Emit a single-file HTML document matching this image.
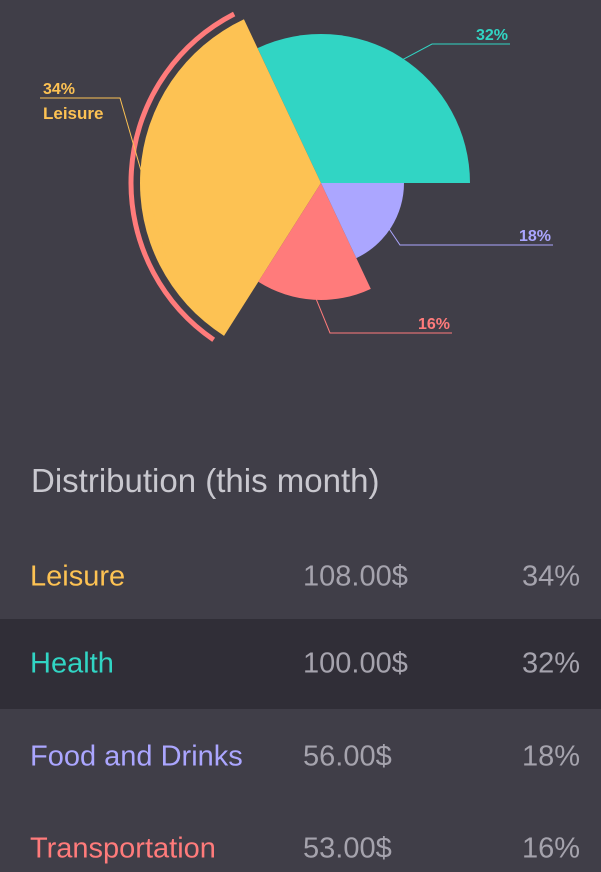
<!DOCTYPE html>
<html><head><meta charset="utf-8"><style>
html,body{margin:0;width:601px;height:872px;overflow:hidden}
body{background:#403e48;font-family:"Liberation Sans",sans-serif;position:relative}
svg{position:absolute;left:0;top:0}
.t{position:absolute;left:31px;top:462px;font-size:33px;color:#c9c8cf;font-weight:300}
.row{position:absolute;left:0;width:601px;height:90px;font-size:29px}
.row span{position:absolute;top:50%;transform:translateY(-50%)}
.n{left:30px}.v{left:303px;color:#a5a3ad}.p{right:21px;color:#a5a3ad}
</style></head><body>
<svg width="601" height="420" id="chart"></svg>
<div class="t">Distribution (this month)</div>
<div class="row" style="top:532px"><span class="n" style="color:#fdc253">Leisure</span><span class="v">108.00$</span><span class="p">34%</span></div>
<div class="row" style="top:619px;background:#302e37"><span class="n" style="color:#31d5c4">Health</span><span class="v">100.00$</span><span class="p">32%</span></div>
<div class="row" style="top:712px"><span class="n" style="color:#aba6ff">Food and Drinks</span><span class="v">56.00$</span><span class="p">18%</span></div>
<div class="row" style="top:804px"><span class="n" style="color:#ff7b7b">Transportation</span><span class="v">53.00$</span><span class="p">16%</span></div>
<script>
const categories=["Health","Leisure","Transportation","Food and Drinks"];
const values=[32,34,16,18];
const radii=[149,181,117,83];
const colors=["#31d5c4","#fdc253","#ff7b7b","#aba6ff"];
const svg=document.getElementById('chart');
const NS="http://www.w3.org/2000/svg";
const cx=321,cy=183;
const total=values.reduce((a,b)=>a+b,0);
function pt(r,a){return [cx+r*Math.sin(a*Math.PI/180),cy-r*Math.cos(a*Math.PI/180)];}
let start=90;
const labelPos=[[432,44,510,44,1],[120,98,40,98,0],[330,333,452,333,1],[400,245,553,245,1]];
const anchorFrac=[0.5,0.78,0.5,0.5];
values.forEach((v,i)=>{
  const sweep=v/total*360;
  const end=start-sweep;
  const r=radii[i];
  const [x1,y1]=pt(r,start),[x2,y2]=pt(r,end);
  const p=document.createElementNS(NS,'path');
  p.setAttribute('d',`M${cx},${cy}L${x1},${y1}A${r},${r} 0 ${sweep>180?1:0} 0 ${x2},${y2}Z`);
  p.setAttribute('fill',colors[i]);
  
  
  svg.appendChild(p);
  if(i===1){
    const R=190;const [a1,b1]=pt(R,start-2),[a2,b2]=pt(R,end+2);
    const arc=document.createElementNS(NS,'path');
    arc.setAttribute('d',`M${a1},${b1}A${R},${R} 0 0 0 ${a2},${b2}`);
    arc.setAttribute('fill','none');arc.setAttribute('stroke','#ff7b7b');arc.setAttribute('stroke-width','5');
    
    
    svg.appendChild(arc);
  }
  const mid=start-sweep*anchorFrac[i];
  const [mx,my]=pt(r-6,mid);
  const L=labelPos[i];
  const line=document.createElementNS(NS,'polyline');
  line.setAttribute('points',`${mx},${my} ${L[0]},${L[1]} ${L[2]},${L[3]}`);
  line.setAttribute('fill','none');line.setAttribute('stroke',colors[i]);line.setAttribute('stroke-width','1');
  
  
  svg.appendChild(line);
  const t=document.createElementNS(NS,'text');
  t.setAttribute('fill',colors[i]);t.setAttribute('font-size','16');t.setAttribute('font-weight','bold');
  t.setAttribute('font-family','Liberation Sans, sans-serif');
  
  
  if(L[4]){t.setAttribute('x',L[2]-2);t.setAttribute('y',L[3]-4);t.setAttribute('text-anchor','end');t.textContent=v+'%';}
  else{t.setAttribute('x',43);t.setAttribute('y',94);t.textContent=v+'%';
    const t2=document.createElementNS(NS,'text');
    t2.setAttribute('x',43);t2.setAttribute('y',119);t2.setAttribute('fill',colors[i]);t2.setAttribute('font-size','17');t2.setAttribute('font-weight','bold');
    t2.setAttribute('font-family','Liberation Sans, sans-serif');
    
    
    t2.textContent=categories[i];svg.appendChild(t2);}
  svg.appendChild(t);
  start=end;
});
</script>
</body></html>
